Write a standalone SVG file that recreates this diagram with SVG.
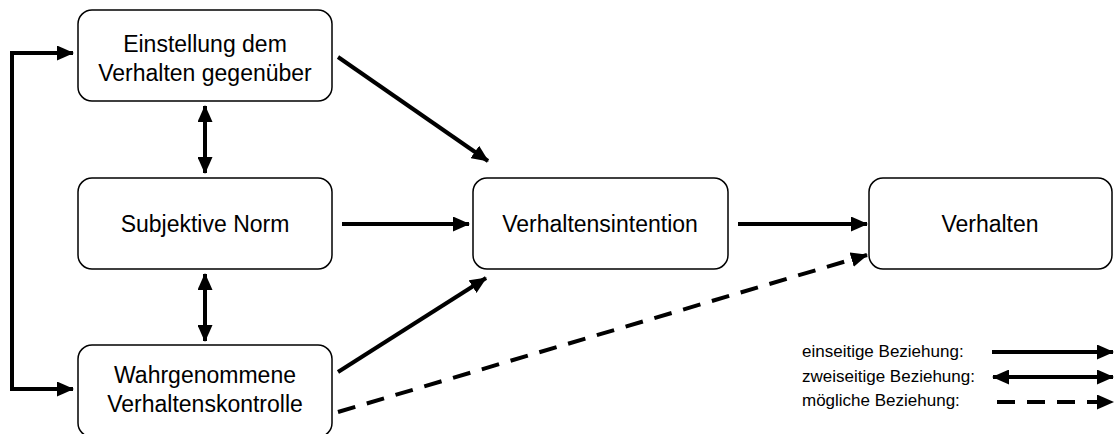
<svg xmlns="http://www.w3.org/2000/svg" width="1114" height="434" viewBox="0 0 1114 434">
<defs>
<marker id="ah" markerUnits="userSpaceOnUse" markerWidth="17" markerHeight="15" refX="16" refY="7.5" orient="auto-start-reverse" viewBox="0 0 17 15">
<path d="M0,0 L17,7.5 L0,15 Z" fill="#000"/>
</marker>
</defs>
<style>
.box{fill:#fff;stroke:#000;stroke-width:1.5}
.t{font-family:"Liberation Sans",Arial,sans-serif;font-size:23px;fill:#000;text-anchor:middle}
.lg{font-family:"Liberation Sans",Arial,sans-serif;font-size:17px;fill:#000}
.c{fill:none;stroke:#000;stroke-width:4}
.one{marker-end:url(#ah)}
.two{marker-start:url(#ah);marker-end:url(#ah)}
.dash{stroke-dasharray:18 12}
</style>
<rect width="1114" height="434" fill="#fff"/>
<g id="connectors">
<path class="c two" d="M73,53 H12 V389 H73"/>
<line class="c two" x1="205" y1="106" x2="205" y2="173"/>
<line class="c two" x1="205" y1="274" x2="205" y2="341"/>
<line class="c one" x1="338" y1="57" x2="488" y2="161"/>
<line class="c one" x1="342" y1="224" x2="469" y2="224"/>
<line class="c one" x1="338" y1="372" x2="486" y2="278"/>
<line class="c one" x1="738" y1="224" x2="867" y2="224"/>
<line class="c one dash" x1="338" y1="412" x2="867" y2="255"/>
</g>
<g id="n1"><rect class="box" x="78" y="10" width="254" height="91" rx="14"/>
<text class="t" x="205" y="52">Einstellung dem</text><text class="t" x="205" y="81">Verhalten gegenüber</text></g>
<g id="n2"><rect class="box" x="78" y="178" width="254" height="91" rx="14"/>
<text class="t" x="205" y="232">Subjektive Norm</text></g>
<g id="n3"><rect class="box" x="78" y="345" width="254" height="92" rx="14"/>
<text class="t" x="205" y="383">Wahrgenommene</text><text class="t" x="205" y="412">Verhaltenskontrolle</text></g>
<g id="n4"><rect class="box" x="473" y="178" width="255" height="91" rx="14"/>
<text class="t" x="600" y="232">Verhaltensintention</text></g>
<g id="n5"><rect class="box" x="869" y="178" width="243" height="91" rx="14"/>
<text class="t" x="990" y="232">Verhalten</text></g>
<g id="legend">
<text class="lg" x="802" y="357">einseitige Beziehung:</text>
<text class="lg" x="802" y="382">zweiseitige Beziehung:</text>
<text class="lg" x="802" y="406">mögliche Beziehung:</text>
<line class="c one" x1="992" y1="352" x2="1113" y2="352"/>
<line class="c two" x1="993" y1="377" x2="1113" y2="377"/>
<line class="c one dash" x1="997" y1="402" x2="1113" y2="402"/>
</g>
</svg>
